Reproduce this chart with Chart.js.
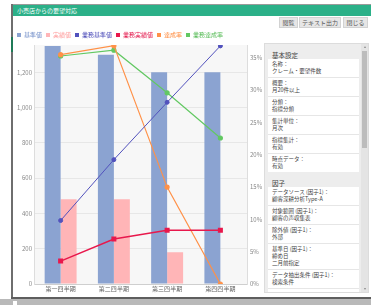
<!DOCTYPE html>
<html>
<head>
<meta charset="utf-8">
<script src="https://cdn.jsdelivr.net/npm/chart.js@4"></script>
<style>
  html, body { margin: 0; padding: 0; }
  body {
    width: 371px; height: 305px; overflow: hidden; position: relative;
    background: #fff; font-family: "Noto Sans CJK JP", "Noto Sans", sans-serif;
  }
  .abs { position: absolute; }
  #frameTop { left: 12px; top: 4px; width: 359px; height: 1px; background: #9a9a9a; }
  #frameLeft { left: 11px; top: 4px; width: 2px; height: 295px; background: #6e6e6e; }
  #frameBottom { left: 11px; top: 297px; width: 360px; height: 2px; background: #5e5e5e; }
  #statusBar { left: 0; top: 299px; width: 371px; height: 6px; background: #b9b9b9; }
  #statusBox { left: 13px; top: 301px; width: 4px; height: 4px; background: #fff; }
  #sideGreen { left: 11px; top: 37px; width: 2px; height: 15px; background: #1f7a57; }
  #header {
    left: 13px; top: 5px; width: 358px; height: 11px; background: #2bb088;
    color: #fff; font-size: 6px; line-height: 11px; padding-left: 4px; box-sizing: border-box;
  }
  .btn {
    top: 17px; height: 11px; background: #e6e6e6; border: 1px solid #d2d2d2; box-sizing: border-box;
    color: #555; font-size: 6px; line-height: 9px; text-align: center;
  }
  #chartBox { left: 13px; top: 28px; width: 254px; height: 269px; }
  #panel {
    left: 264px; top: 43px; width: 105px; height: 250px; background: #ededed;
    border: 1px solid #dcdcdc; box-sizing: border-box; overflow: hidden;
  }
  #scrollTrack { right: 0; top: 0; width: 7px; height: 100%; background: #e4e4e4; }
  #scrollThumb { right: 1px; top: 7px; width: 5px; height: 97px; background: #bcbcbc; }
  .arrow { right: 2px; width: 0; height: 0; border-left: 1.5px solid transparent; border-right: 1.5px solid transparent; }
  .secTitle { position: absolute; left: 7px; font-size: 6.5px; color: #444; }
  .card { position: absolute; left: 3px; width: 91px; background: #fff; }
  .item { padding: 2px 4px 2px; border-bottom: 1px solid #e6e6e6; font-size: 5.5px; line-height: 7px; color: #444; }
  .item:last-child { border-bottom: none; }
  .item div { white-space: nowrap; }
</style>
</head>
<body>
<div id="frameTop" class="abs"></div>
<div id="frameLeft" class="abs"></div>
<div id="sideGreen" class="abs"></div>
<div id="header" class="abs">小売店からの要望対応</div>
<div class="abs btn" style="left:279px;width:19px;">閲覧</div>
<div class="abs btn" style="left:299px;width:42px;">テキスト出力</div>
<div class="abs btn" style="left:343px;width:25px;">閉じる</div>

<div id="chartBox" class="abs"><canvas id="chart" width="254" height="269"></canvas></div>

<div id="panel" class="abs">
  <div class="secTitle" style="top:6px;">基本設定</div>
  <div class="card" style="top:15px;">
    <div class="item"><div>名称：</div><div>クレーム・要望件数</div></div>
    <div class="item"><div>概要：</div><div>月20件以上</div></div>
    <div class="item"><div>分類：</div><div>指標分類</div></div>
    <div class="item"><div>集計単位：</div><div>月次</div></div>
    <div class="item"><div>指標集計：</div><div>有効</div></div>
    <div class="item"><div>時点データ：</div><div>有効</div></div>
  </div>
  <div class="secTitle" style="top:134px;">因子</div>
  <div class="card" style="top:143px;">
    <div class="item"><div>データソース (因子1)：</div><div>顧客深耕分析Type-A</div></div>
    <div class="item"><div>対象範囲 (因子1)：</div><div>顧客の声収集表</div></div>
    <div class="item"><div>除外値 (因子1)：</div><div>外部</div></div>
    <div class="item"><div>基準日 (因子1)：</div><div>締め日</div><div>二月前指定</div></div>
    <div class="item"><div>データ抽出条件 (因子1)：</div><div>検索条件</div></div>
    <div class="item"><div>&nbsp;</div></div>
  </div>
  <div id="scrollTrack" class="abs"></div>
  <div id="scrollThumb" class="abs"></div>
  <div class="abs arrow" style="top:2px;border-bottom:2px solid #888;"></div>
  <div class="abs arrow" style="bottom:2px;border-top:2px solid #888;"></div>
</div>

<div id="frameBottom" class="abs"></div>
<div id="statusBar" class="abs"></div>
<div id="statusBox" class="abs"></div>

<script>
// categories and series
const categories = ['第一四半期', '第二四半期', '第三四半期', '第四四半期'];
const seriesLabels = ['基準値', '実績値', '業務基準値', '業務実績値', '達成率', '業務達成率'];
const baseValues = [1350, 1300, 1200, 1200];
const actualValues = [480, 480, 180, 0];
const bizBaseValues = [360, 705, 1030, 1350];
const bizActualValues = [130, 255, 305, 305];
const achieveRate = [35.5, 36.9, 15.0, 0];      // %
const bizAchieveRate = [35.3, 36.2, 29.6, 22.6]; // %

const colors = ['#8ba3d1', '#ffb5b7', '#5252bd', '#e8184c', '#ff9148', '#62c862'];
const legendText = ['#6f8cc8', '#ff9c9c', '#4a4ab8', '#e3164a', '#ff8a3c', '#55bb55'];

// light gray plot background
const plotBg = {
  id: 'plotBg',
  beforeDraw(chart) {
    const { ctx, chartArea: a } = chart;
    ctx.save();
    ctx.fillStyle = '#f7f7f7';
    ctx.fillRect(a.left, a.top, a.right - a.left, a.bottom - a.top);
    ctx.restore();
  }
};

const font = { family: '"Noto Sans CJK JP", "Noto Sans", sans-serif', size: 6 };

new Chart(document.getElementById('chart'), {
  type: 'bar',
  data: {
    labels: categories,
    datasets: [
      { type: 'bar', label: seriesLabels[0], data: baseValues, backgroundColor: colors[0], yAxisID: 'y', order: 2 },
      { type: 'bar', label: seriesLabels[1], data: actualValues, backgroundColor: colors[1], yAxisID: 'y', order: 2 },
      { type: 'line', label: seriesLabels[2], data: bizBaseValues, borderColor: colors[2], backgroundColor: colors[2],
        borderWidth: 1, pointRadius: 2, yAxisID: 'y', order: 1 },
      { type: 'line', label: seriesLabels[3], data: bizActualValues, borderColor: colors[3], backgroundColor: colors[3],
        borderWidth: 1.5, pointRadius: 2.5, pointStyle: 'rect', yAxisID: 'y', order: 1 },
      { type: 'line', label: seriesLabels[4], data: achieveRate, borderColor: colors[4], backgroundColor: colors[4],
        borderWidth: 1.2, pointRadius: 2, yAxisID: 'y1', order: 1 },
      { type: 'line', label: seriesLabels[5], data: bizAchieveRate, borderColor: colors[5], backgroundColor: colors[5],
        borderWidth: 1.2, pointRadius: 2, yAxisID: 'y1', order: 1 }
    ]
  },
  options: {
    responsive: false,
    animation: false,
    devicePixelRatio: 1,
    layout: { padding: 0 },
    datasets: { bar: { categoryPercentage: 0.6, barPercentage: 1.0, borderWidth: 0 } },
    plugins: {
      tooltip: { enabled: false },
      legend: {
        align: 'start',
        maxHeight: 17,
        labels: {
          boxWidth: 4, boxHeight: 4, padding: 4, font: font,
          generateLabels: chart => chart.data.datasets.map((ds, i) => ({
            text: ds.label, fillStyle: colors[i], strokeStyle: colors[i], lineWidth: 0,
            fontColor: legendText[i], hidden: false, datasetIndex: i
          }))
        }
      }
    },
    scales: {
      x: {
        offset: true,
        grid: { display: false, drawTicks: false },
        border: { color: '#cfcfcf' },
        ticks: { font: font, color: '#666', maxRotation: 0, padding: 1 },
        afterFit(s) { s.height = 13; }
      },
      y: {
        position: 'left',
        min: 0, max: 1355,
        ticks: { stepSize: 200, includeBounds: false, font: font, color: '#888', padding: 2,
          callback: v => v.toLocaleString('en-US') },
        grid: { color: '#e7e7e7', drawTicks: false },
        border: { color: '#dddddd' },
        afterFit(s) { s.width = 21; }
      },
      y1: {
        position: 'right',
        min: 0, max: 37,
        ticks: { stepSize: 5, includeBounds: false, font: font, color: '#888', padding: 3,
          callback: v => v + '%' },
        grid: { display: false, drawTicks: false },
        border: { color: '#dddddd' },
        afterFit(s) { s.width = 20; }
      }
    }
  },
  plugins: [plotBg]
});
</script>
</body>
</html>
